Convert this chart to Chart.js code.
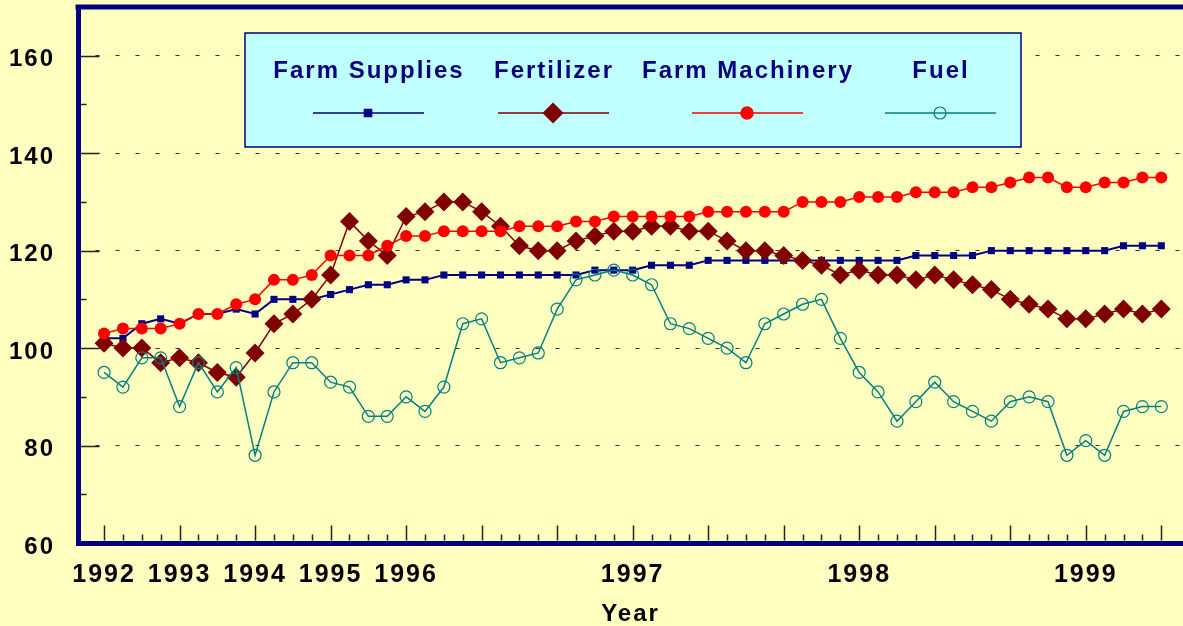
<!DOCTYPE html>
<html>
<head>
<meta charset="utf-8">
<script src="https://cdn.jsdelivr.net/npm/chart.js@4.4.0/dist/chart.umd.min.js"></script>
<style>
    html, body { margin: 0; padding: 0; background: #FFFFC0; overflow: hidden; }
    #wrap { width: 1183px; height: 626px; }
</style>
</head>
<body>
<div id="wrap"><canvas id="inputPriceChart"></canvas></div>
<script>
// quarterly 1992-1995, then monthly from Jan 1996
const yearLabels = ['1992', '1993', '1994', '1995', '1996', '1997', '1998', '1999'];
const yearIndex = [0, 4, 8, 12, 16, 28, 40, 52];
const yTickValues = [60, 80, 100, 120, 140, 160];

const farmSupplies = [102, 102, 105, 106, 105, 107, 107, 108, 107, 110, 110, 110, 111, 112, 113, 113,
    114, 114, 115, 115, 115, 115, 115, 115, 115, 115, 116, 116, 116, 117, 117, 117,
    118, 118, 118, 118, 118, 118, 118, 118, 118, 118, 118, 119, 119, 119, 119, 120,
    120, 120, 120, 120, 120, 120, 121, 121, 121];
const fertilizer = [101, 100, 100, 97, 98, 97, 95, 94, 99, 105, 107, 110, 115, 126, 122, 119,
    127, 128, 130, 130, 128, 125, 121, 120, 120, 122, 123, 124, 124, 125, 125, 124,
    124, 122, 120, 120, 119, 118, 117, 115, 116, 115, 115, 114, 115, 114, 113, 112,
    110, 109, 108, 106, 106, 107, 108, 107, 108];
const farmMachinery = [103, 104, 104, 104, 105, 107, 107, 109, 110, 114, 114, 115, 119, 119, 119, 121,
    123, 123, 124, 124, 124, 124, 125, 125, 125, 126, 126, 127, 127, 127, 127, 127,
    128, 128, 128, 128, 128, 130, 130, 130, 131, 131, 131, 132, 132, 132, 133, 133,
    134, 135, 135, 133, 133, 134, 134, 135, 135];
const fuel = [95, 92, 98, 98, 88, 97, 91, 96, 78, 91, 97, 97, 93, 92, 86, 86,
    90, 87, 92, 105, 106, 97, 98, 99, 108, 114, 115, 116, 115, 113, 105, 104,
    102, 100, 97, 105, 107, 109, 110, 102, 95, 91, 85, 89, 93, 89, 87, 85,
    89, 90, 89, 78, 81, 78, 87, 88, 88];

const NAVY = '#000080',
    FERT = '#800000',
    MACH = '#FF0000',
    FUEL = '#008080',
    FONT = '"Liberation Sans", Arial, sans-serif';

const toPoints = arr => arr.map((v, i) => ({x: i, y: v}));

const series = [
    {label: 'Farm Supplies', data: farmSupplies, color: NAVY, style: 'rect', radius: 5, fill: NAVY, line: 2, order: 4},
    {label: 'Fertilizer', data: fertilizer, color: FERT, style: 'rectRot', radius: 9.5, fill: FERT, line: 1.5, order: 3},
    {label: 'Farm Machinery', data: farmMachinery, color: MACH, style: 'circle', radius: 6, fill: MACH, line: 1.5, order: 2},
    {label: 'Fuel', data: fuel, color: FUEL, style: 'circle', radius: 6, fill: 'rgba(0,0,0,0)', line: 1.5, order: 1}
];

const spacing = {
    id: 'spacing',
    beforeDraw(chart) {
        chart.ctx.letterSpacing = '2px';
    }
};

// inward tick marks and the top frame line
const frame = {
    id: 'frame',
    beforeDatasetsDraw(chart) {
        const {ctx, chartArea: a, scales: {x, y}} = chart;
        ctx.save();
        ctx.strokeStyle = NAVY;
        ctx.lineWidth = 5;
        ctx.beginPath();
        ctx.moveTo(a.left - 2.5, a.top);
        ctx.lineTo(a.right, a.top);
        ctx.stroke();

        ctx.strokeStyle = '#222';
        ctx.lineWidth = 1.5;
        ctx.beginPath();
        for (let i = 0; i < farmSupplies.length; i++) {
            const px = Math.round(x.getPixelForValue(i)) + 0.5;
            const len = i % 4 === 0 ? 15 : 6;
            ctx.moveTo(px, a.bottom - 2.5);
            ctx.lineTo(px, a.bottom - 2.5 - len);
        }
        for (let v = 70; v < 170; v += 10) {
            const py = Math.round(y.getPixelForValue(v)) + 0.5;
            const len = v % 20 === 0 ? 19 : 6;
            ctx.moveTo(a.left + 2.5, py);
            ctx.lineTo(a.left + 2.5 + len, py);
        }
        ctx.stroke();
        ctx.restore();
    }
};

const boxLegend = {
    id: 'boxLegend',
    afterDraw(chart) {
        const ctx = chart.ctx;
        const centers = [368, 553, 747, 940];
        ctx.save();
        ctx.fillStyle = '#C0FFFF';
        ctx.fillRect(245, 33, 776, 114);
        ctx.strokeStyle = NAVY;
        ctx.lineWidth = 1.5;
        ctx.strokeRect(245, 33, 776, 114);

        ctx.font = 'bold 24px ' + FONT;
        ctx.textAlign = 'center';
        ctx.textBaseline = 'middle';
        series.forEach((s, i) => {
            const cx = centers[i];
            ctx.fillStyle = NAVY;
            ctx.fillText(s.label, cx + 1, 71);
            ctx.strokeStyle = s.color;
            ctx.lineWidth = 1.5;
            ctx.beginPath();
            ctx.moveTo(cx - 55, 113);
            ctx.lineTo(cx + 56, 113);
            ctx.stroke();
            ctx.fillStyle = s.fill;
            ctx.lineWidth = i === 3 ? 1.2 : 0;
            Chart.helpers.drawPoint(ctx, {pointStyle: s.style, radius: s.radius, rotation: 0, borderWidth: ctx.lineWidth}, cx, 113);
        });
        ctx.restore();
    }
};

const ctx = document.getElementById('inputPriceChart');

const config = {
    type: 'line',
    data: {
        datasets: series.map(s => ({
            label: s.label,
            data: toPoints(s.data),
            borderColor: s.color,
            borderWidth: s.line,
            pointStyle: s.style,
            pointRadius: s.radius,
            pointBackgroundColor: s.fill,
            pointBorderColor: s.color,
            pointBorderWidth: s.label === 'Fuel' ? 1.2 : 0,
            tension: 0,
            order: s.order
        }))
    },
    options: {
        responsive: true,
        maintainAspectRatio: false,
        animation: false,
        events: [],
        layout: {autoPadding: false, padding: {top: 7, left: 0, right: 0, bottom: 0}},
        plugins: {
            legend: {display: false},
            tooltip: {enabled: false}
        },
        scales: {
            x: {
                type: 'linear',
                min: -1.38,
                max: 57.15,
                afterFit: s => {
                    s.height = 83;
                    s.paddingLeft = 0;
                    s.paddingRight = 0;
                },
                afterBuildTicks: s => { s.ticks = yearIndex.map(v => ({value: v})); },
                grid: {display: false, drawTicks: false},
                border: {color: NAVY, width: 5},
                ticks: {
                    autoSkip: false,
                    maxRotation: 0,
                    padding: 17,
                    color: '#000',
                    font: {family: FONT, size: 25, weight: 'bold'},
                    callback: v => yearLabels[yearIndex.indexOf(v)] ?? ''
                },
                title: {
                    display: true,
                    text: 'Year',
                    color: '#000',
                    padding: {top: 0, bottom: 0},
                    font: {family: FONT, size: 24, weight: 'bold', lineHeight: 1}
                }
            },
            y: {
                min: 60,
                max: 170,
                afterFit: s => {
                    s.width = 78;
                    s.paddingTop = 0;
                    s.paddingBottom = 0;
                },
                afterBuildTicks: s => { s.ticks = yTickValues.map(v => ({value: v})); },
                grid: {
                    drawTicks: false,
                    lineWidth: 1,
                    color: c => c.tick && c.tick.value === 60 ? 'rgba(0,0,0,0)' : '#333'
                },
                border: {color: NAVY, width: 5, dash: [4, 16], dashOffset: 5.5},
                ticks: {
                    padding: 23,
                    labelOffset: 4,
                    color: '#000',
                    font: {family: FONT, size: 24, weight: 'bold'}
                }
            }
        }
    },
    plugins: [spacing, frame, boxLegend]
};

const chart = new Chart(ctx, config);
</script>
</body>
</html>
